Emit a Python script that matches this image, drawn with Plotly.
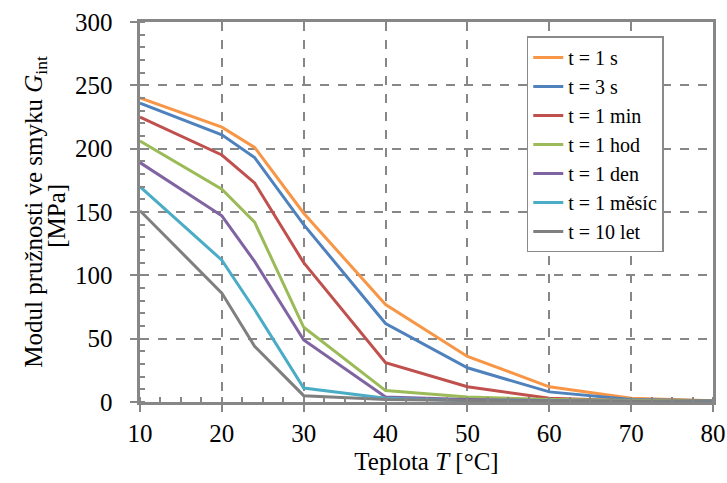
import plotly.graph_objects as go

temps = [10, 20, 24, 30, 40, 50, 60, 70, 80]
names = ["t = 1 s", "t = 3 s", "t = 1 min", "t = 1 hod", "t = 1 den", "t = 1 měsíc", "t = 10 let"]
g_1s = [240, 217, 201, 149, 77, 36, 12, 3, 1]
g_3s = [236, 211, 193, 140, 62, 27, 8, 2, 1]
g_1min = [225, 195, 173, 110, 31, 12, 3, 1, 0.5]
g_1hod = [206, 168, 142, 59, 9, 4, 2, 1, 0.5]
g_1den = [189, 147, 111, 49, 4, 2, 1, 0.5, 0.3]
g_1mesic = [170, 112, 73, 11, 3, 1, 0.5, 0.3, 0.2]
g_10let = [151, 86, 44, 5, 2, 1, 0.5, 0.3, 0.2]
series = [g_1s, g_3s, g_1min, g_1hod, g_1den, g_1mesic, g_10let]
colors = ["#F79646", "#4F81BD", "#C0504D", "#9BBB59", "#8064A2", "#4BACC6", "#7F7F7F"]

fig = go.Figure()
for i, (n, ys, c) in enumerate(zip(names, series, colors)):
    fig.add_trace(go.Scatter(x=temps, y=ys, name=n, mode="lines",
                             line=dict(color=c, width=3), legendgroup=f"g{i}"))

font_family = "Liberation Serif"
axcol = "#878787"
fig.update_layout(
    width=727, height=483,
    margin=dict(l=140, r=14, t=22, b=81),
    paper_bgcolor="white", plot_bgcolor="white",
    font=dict(family=font_family, size=25, color="black"),
    showlegend=True,
    legend=dict(x=0.675, y=0.962, xanchor="left", yanchor="top",
                bgcolor="white", bordercolor="#8a8a8a", borderwidth=1.5,
                font=dict(size=20, family=font_family, color="black"), tracegroupgap=17,
                traceorder="normal"),
    xaxis=dict(range=[10, 80], dtick=10, tick0=10, automargin=False,
               showline=True, linecolor=axcol, linewidth=3, mirror=True,
               showgrid=True, gridcolor=axcol, griddash="dash", gridwidth=1.5,
               ticks="outside", ticklen=7, tickwidth=2, tickcolor=axcol,
               tickfont=dict(family=font_family, size=25, color="black"),
               minor=dict(ticks="inside", dtick=2.5, ticklen=5, tickwidth=2, tickcolor=axcol, showgrid=False),
               zeroline=False,
               title=dict(text="Teplota <i>T</i> [°C]", standoff=7,
                          font=dict(size=25, family=font_family, color="black"))),
    yaxis=dict(range=[0, 300], dtick=50, automargin=False,
               showline=True, linecolor=axcol, linewidth=3, mirror=True,
               showgrid=True, gridcolor=axcol, griddash="dash", gridwidth=1.5,
               ticks="outside", ticklen=7, tickwidth=2, tickcolor=axcol,
               ticksuffix="\u00a0\u00a0",
               tickfont=dict(family=font_family, size=25, color="black"),
               minor=dict(ticks="inside", dtick=10, ticklen=5, tickwidth=2, tickcolor=axcol, showgrid=False),
               zeroline=False,
               title=dict(text="Modul pružnosti ve smyku <i>G</i><sub>int</sub>",
                          standoff=26, font=dict(size=25, family=font_family, color="black"))),
    annotations=[dict(text="[MPa]", xref="paper", yref="paper", x=(57 - 140) / 573, y=0.49,
                      xanchor="center", yanchor="middle", textangle=-90, showarrow=False,
                      font=dict(size=25, family=font_family, color="black"))],
)
fig.write_html("out.html", config={"displayModeBar": False},
               post_script="document.body.style.margin='0';document.body.style.padding='0';")
